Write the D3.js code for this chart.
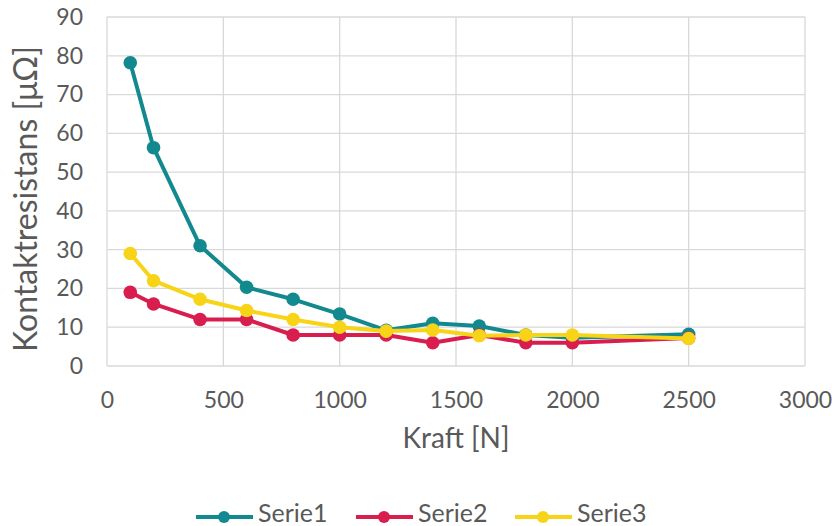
<!DOCTYPE html>
<html><head><meta charset="utf-8">
<script src="https://cdn.jsdelivr.net/npm/d3@7"></script>
<style>body{margin:0;background:#fff}svg text{font-family:Lato,"Open Sans",sans-serif;fill:#595959}</style>
</head><body><svg id="c" width="838" height="526"></svg>
<script>
const kraft = [100,200,400,600,800,1000,1200,1400,1600,1800,2000,2500];
const serie1 = [78.2,56.3,31,20.3,17.2,13.4,9.2,11,10.3,8,7.3,8.2];
const serie2 = [19,16,12,12,8,8,8,6,8,6,6,7.2];
const serie3 = [29,22,17.2,14.3,12,10,9,9.3,7.8,8,8,7.1];
const seriesNames = ["Serie1","Serie2","Serie3"];
const colors = ["#12898F","#D81E4E","#F7D417"];
const xTicks = [0,500,1000,1500,2000,2500,3000];
const yTicks = [0,10,20,30,40,50,60,70,80,90];

const svg = d3.select("#c");
const L=107,R=805,T=17,B=366;
const x = d3.scaleLinear().domain([0,3000]).range([L,R]);
const y = d3.scaleLinear().domain([0,90]).range([B,T]);

const g = svg.append("g");
g.selectAll(".vg").data(xTicks).join("line").attr("x1",d=>x(d)).attr("x2",d=>x(d)).attr("y1",T).attr("y2",B).attr("stroke","#d9d9d9").attr("stroke-width",1.3);
g.selectAll(".hg").data(yTicks).join("line").attr("x1",L).attr("x2",R).attr("y1",d=>y(d)).attr("y2",d=>y(d)).attr("stroke","#d9d9d9").attr("stroke-width",1.3);

const xa = svg.append("g").attr("transform",`translate(0,${B})`).call(d3.axisBottom(x).tickValues(xTicks).tickSize(0).tickPadding(26).tickFormat(d3.format("d")));
xa.select(".domain").remove();
xa.selectAll("text").attr("font-size",23).style("font-family","Lato").attr("fill","#595959");
const ya = svg.append("g").attr("transform",`translate(${L},0)`).call(d3.axisLeft(y).tickValues(yTicks).tickSize(0).tickPadding(24));
ya.select(".domain").remove();
ya.selectAll("text").attr("font-size",23).style("font-family","Lato").attr("fill","#595959");

svg.append("text").attr("x",456).attr("y",448).attr("text-anchor","middle").attr("font-size",28).text("Kraft [N]");
svg.append("text").attr("transform","translate(37,199) rotate(-90)").attr("text-anchor","middle").attr("font-size",32).text("Kontaktresistans  [μΩ]");

const all=[serie1,serie2,serie3];
const line=d3.line().x((d,i)=>x(kraft[i])).y(d=>y(d));
all.forEach((s,k)=>{
  svg.append("path").datum(s).attr("d",line).attr("fill","none").attr("stroke",colors[k]).attr("stroke-width",4).attr("stroke-linejoin","round");
  svg.append("g").selectAll("circle").data(s).join("circle").attr("cx",(d,i)=>x(kraft[i])).attr("cy",d=>y(d)).attr("r",6.8).attr("fill",colors[k]);
});

const legX=[196,356,515];
seriesNames.forEach((n,k)=>{
  const lg=svg.append("g").attr("transform",`translate(${legX[k]},517)`);
  lg.append("line").attr("x1",0).attr("x2",57).attr("stroke",colors[k]).attr("stroke-width",4);
  lg.append("circle").attr("cx",28).attr("r",6).attr("fill",colors[k]);
  lg.append("text").attr("x",62).attr("y",5).attr("font-size",25).text(n);
});
</script></body></html>
